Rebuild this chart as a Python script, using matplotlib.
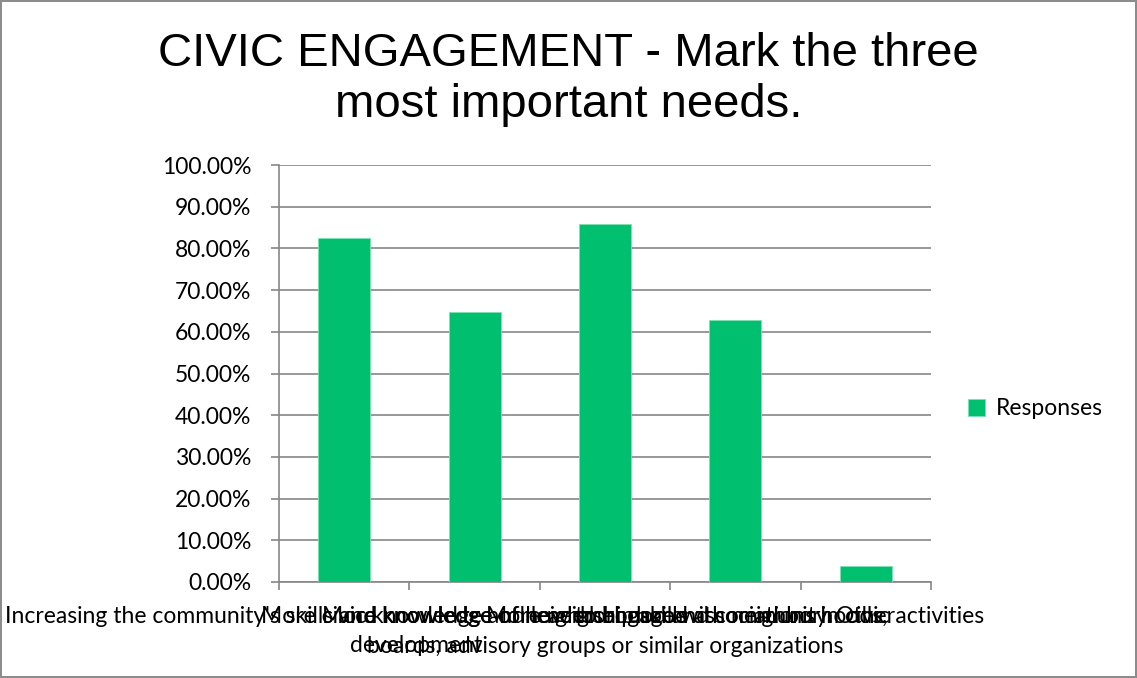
import matplotlib

matplotlib.use("Agg")
import matplotlib.pyplot as plt
import matplotlib.transforms as mtransforms
import numpy as np

# data
categories = [
    "Increasing the community's skills and knowledge of neighborhood and community\ndevelopment",
    "More civic knowledge and leadership skills",
    "More knowledge of how to engage with neighborhoods,\nboards, advisory groups or similar organizations",
    "More neighborhood associations in civic activities",
    "Other",
]
responses = [0.825, 0.647, 0.859, 0.628, 0.038]
series_name = "Responses"
title = "CIVIC ENGAGEMENT - Mark the three\nmost important needs."
y_ticks = np.arange(0, 1.01, 0.1)

BAR_COLOR = "#00BF6F"
GRID_COLOR = "#868686"
W, H = 1137, 678
FONT = "Lato"
FS = 16.5

fig = plt.figure(figsize=(W / 100, H / 100), dpi=100)
fig.patch.set_edgecolor("#8c8c8c")
fig.patch.set_linewidth(1.5)

# plot area: x 279..931 px, y 165..582 px
ax = fig.add_axes([279 / W, 1 - 582 / H, (931 - 279) / W, (582 - 165) / H])

x = np.arange(len(categories))
ax.bar(x, responses, width=0.4, color=BAR_COLOR, edgecolor="#7fe0b4", linewidth=0.6,
       label=series_name, zorder=3)

ax.set_xlim(-0.5, len(categories) - 0.5)
ax.set_ylim(0, 1.0)
ax.set_yticks(y_ticks)
ax.set_yticklabels([f"{v * 100:.2f}%" for v in y_ticks], family=FONT, fontsize=FS)
ax.yaxis.grid(True, color=GRID_COLOR, linewidth=1.2, zorder=0)

# tick marks between categories, labels drawn separately below
ax.set_xticks(np.arange(-0.5, len(categories)))
ax.set_xticklabels([])
ax.tick_params(axis="x", direction="out", length=6, color=GRID_COLOR, width=1.2)
ax.tick_params(axis="y", direction="out", length=6, color=GRID_COLOR, width=1.2, pad=14)

for side in ("top", "right"):
    ax.spines[side].set_visible(False)
for side in ("left", "bottom"):
    ax.spines[side].set_color(GRID_COLOR)
    ax.spines[side].set_linewidth(1.2)

label_trans = mtransforms.blended_transform_factory(ax.transData, ax.transAxes)
for i, text in enumerate(categories):
    if i == 0:
        # Excel pushed the first, very wide label to the chart's left edge
        fig.text(5 / W, 1 - 606 / H, text, ha="left", va="top", family=FONT,
                 fontsize=FS, linespacing=1.5, multialignment="center")
    else:
        ax.text(i, -0.058, text, transform=label_trans, ha="center", va="top",
                family=FONT, fontsize=FS, linespacing=1.5, multialignment="center")

fig.suptitle(title, x=0.5, y=1 - 32 / H, fontsize=34, family="Liberation Sans",
             linespacing=1.2, va="top")

ax.legend(loc="center left", bbox_to_anchor=(1.025, 0.415), frameon=False,
          prop={"family": FONT, "size": FS}, handlelength=0.75, handleheight=0.75,
          handletextpad=0.45)

fig.savefig("out.png", dpi=100)
